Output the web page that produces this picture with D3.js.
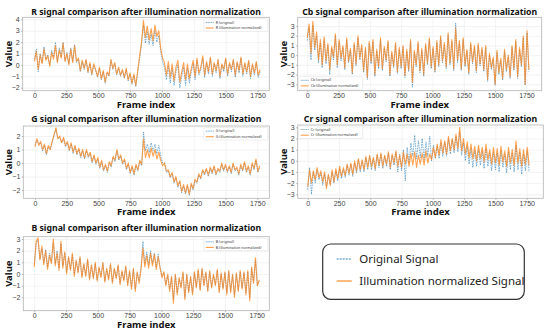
<!DOCTYPE html>
<html>
<head>
<meta charset="utf-8">
<script src="https://cdn.jsdelivr.net/npm/d3@7"></script>
<style>
  body { margin: 0; background: #fff; }
  svg { display: block; font-family: "Noto Sans", "DejaVu Sans", sans-serif; }
</style>
</head>
<body>
<div id="chart"></div>
<script>

// data: one value every 15 frames
const frameStep = 15;
const xTicks = [0, 250, 500, 750, 1000, 1250, 1500, 1750];

const rOriginal = [
  0.5, 1.4, -0.6, 1.0, 0.2, 1.6, 0.5, 0.9, 0.0, 1.3,
  0.7, 2.0, 0.3, 1.5, 0.7, 2.0, 0.4, 1.1, 0.1, 1.5,
  0.3, 1.8, 0.2, 0.5, -0.6, 0.3, -0.4, 0.4, -0.7, 0.1,
  -0.9, 0.0, -0.5, -1.1, -0.3, -1.3, -0.6, -1.6, -0.7, -1.0,
  0.4, -0.4, 0.1, -0.9, -0.3, -1.0, -0.5, -1.2, -0.4, -1.4,
  -0.8, -1.7, -0.9, -1.9, -0.7, 0.6, 1.8, 3.5, 1.9, 2.9,
  1.8, 2.7, 1.7, 3.0, 2.0, 2.6, 1.2, 0.3, -0.2, -1.3,
  -0.1, -1.6, -0.3, -1.8, -0.6, 0.0, -2.0, -1.0, -0.2, -1.8,
  -0.3, -1.6, -0.6, 0.1, -1.3, 0.4, -0.9, -0.4, 0.6, -1.1,
  0.2, -0.8, 0.6, -1.0, 0.1, -0.7, 0.4, -1.2, 0.0, -0.6,
  0.5, -1.0, 0.1, -0.6, 0.4, -1.1, 0.2, -0.7, 0.6, -1.0,
  0.1, -0.8, 0.3, -1.2, 0.0, -0.9, 0.2, -1.1, -0.6];
const rNormalized = [
  0.3, 1.2, -0.4, 0.9, 0.1, 1.4, 0.4, 0.8, -0.1, 1.1,
  0.5, 1.7, 0.2, 1.3, 0.6, 1.9, 0.3, 1.0, 0.0, 1.4,
  0.2, 1.7, 0.3, 0.6, -0.5, 0.4, -0.3, 0.5, -0.6, 0.2,
  -0.8, 0.1, -0.4, -1.0, -0.2, -1.2, -0.5, -1.5, -0.6, -0.9,
  0.5, -0.3, 0.2, -0.8, -0.2, -0.9, -0.4, -1.1, -0.3, -1.3,
  -0.7, -1.6, -0.8, -1.8, -0.5, 0.8, 2.0, 3.9, 2.4, 3.4,
  2.2, 3.2, 2.1, 3.5, 2.5, 3.0, 1.5, 0.6, 0.2, -0.9,
  0.3, -1.1, 0.1, -1.4, -0.2, 0.4, -1.5, -0.6, 0.2, -1.3,
  0.1, -1.2, -0.3, 0.4, -1.0, 0.6, -0.7, -0.2, 0.8, -0.9,
  0.3, -0.6, 0.7, -0.8, 0.2, -0.5, 0.5, -1.0, 0.1, -0.4,
  0.6, -0.8, 0.2, -0.4, 0.5, -0.9, 0.3, -0.5, 0.7, -0.8,
  0.2, -0.6, 0.4, -1.0, 0.1, -0.7, 0.3, -0.9, -0.4];

const cbOriginal = [
  1.5, 2.9, -0.5, 3.1, 0.5, 2.0, -0.8, 1.3, -1.3, 1.6,
  -0.9, 1.0, -2.0, 0.7, -0.5, 2.0, -1.3, 1.4, -0.6, 0.8,
  -1.5, 1.6, -0.8, 0.5, -2.0, 1.1, -1.1, 1.8, -0.5, 0.9,
  -1.8, 0.6, -2.5, 1.2, -0.9, 1.4, -2.2, 0.4, -1.4, 1.6,
  -1.6, 0.7, -0.7, 1.3, -2.2, 0.2, -1.3, 1.1, -1.9, 0.6,
  -1.4, 0.8, -2.3, 0.4, -1.7, 1.4, -3.3, 0.3, -1.2, 1.2,
  -1.8, 0.5, -2.2, 1.0, -1.0, 1.6, -1.4, 0.7, -1.8, 1.3,
  -1.2, 1.8, -0.8, 1.1, -1.4, 2.1, -1.0, 1.4, -1.6, 3.3,
  -0.8, 1.3, -1.6, 1.6, -1.2, 0.4, -2.0, 1.1, -0.9, 0.8,
  -1.8, 1.0, -1.1, 0.6, -1.7, 0.8, -2.7, 0.0, -1.5, -0.4,
  -3.1, 0.3, -2.0, -0.5, -2.6, 0.4, -1.7, -0.2, -2.4, 0.8,
  -1.6, 1.4, -2.4, 0.6, -1.2, 1.8, -3.1, 2.3, -1.7];
const cbNormalized = [
  1.8, 3.2, 0.2, 3.5, 0.8, 2.4, -0.5, 1.6, -1.0, 1.9,
  -0.6, 1.2, -1.5, 0.9, -0.2, 2.2, -1.0, 1.6, -0.3, 1.0,
  -1.3, 1.8, -0.6, 0.7, -1.8, 1.3, -0.9, 2.0, -0.3, 1.1,
  -1.6, 0.8, -2.3, 1.4, -0.7, 1.6, -2.0, 0.6, -1.2, 1.8,
  -1.4, 0.9, -0.5, 1.5, -2.0, 0.4, -1.1, 1.3, -1.7, 0.8,
  -1.2, 1.0, -2.1, 0.6, -1.5, 1.6, -2.8, 0.5, -1.0, 1.4,
  -1.6, 0.7, -2.0, 1.2, -0.8, 1.8, -1.2, 0.9, -1.6, 1.5,
  -1.0, 2.0, -0.6, 1.3, -1.2, 2.3, -0.8, 1.6, -1.4, 2.8,
  -0.5, 1.5, -1.4, 1.8, -1.0, 0.6, -1.8, 1.3, -0.7, 1.0,
  -1.6, 1.2, -0.9, 0.8, -1.5, 1.0, -2.5, 0.2, -1.3, -0.2,
  -3.0, 0.5, -1.8, -0.3, -2.4, 0.6, -1.5, 0.0, -2.2, 1.0,
  -1.4, 1.6, -2.2, 0.8, -1.0, 2.0, -3.0, 2.5, -1.5];

const gOriginal = [
  1.3, 1.7, 1.4, 1.5, 0.9, 1.3, 0.6, 1.2, 1.0, 1.5,
  2.0, 2.5, 1.8, 1.9, 1.5, 1.8, 1.2, 1.5, 0.9, 1.4,
  0.7, 1.2, 0.6, 1.0, 0.4, 0.9, 0.3, 0.9, 0.4, 0.7,
  0.0, 0.5, -0.1, 0.3, -0.4, 0.1, -0.6, -0.2, -0.7, 0.0,
  -0.3, 0.4, 0.1, 0.9, 0.2, 0.5, -0.1, 0.2, -0.5, -0.1,
  -0.8, -0.3, -0.9, -0.2, -0.6, 0.1, -0.2, 2.3, 0.9, 1.4,
  0.8, 1.5, 0.9, 1.4, 0.7, 1.3, 0.5, 0.0, 0.0, -0.7,
  -0.6, -1.1, -0.8, -1.5, -1.1, -1.8, -1.4, -2.2, -1.7, -2.3,
  -1.7, -2.4, -1.6, -2.0, -1.3, -1.5, -0.9, -1.2, -0.6, -0.9,
  -0.5, -1.0, -0.4, -0.8, -0.3, -0.9, -0.5, -0.7, -0.1, -0.6,
  -0.2, -0.7, -0.3, -0.8, -0.1, -0.6, -0.4, -0.9, -0.2, -0.6,
  0.0, -0.7, -0.3, -0.9, -0.1, -0.5, 0.2, -0.7, -0.3];
const gNormalized = [
  1.2, 1.8, 1.3, 1.6, 1.0, 1.4, 0.7, 1.3, 1.0, 1.6,
  2.1, 2.6, 1.8, 2.0, 1.5, 1.9, 1.3, 1.6, 1.0, 1.5,
  0.8, 1.3, 0.7, 1.1, 0.5, 1.0, 0.4, 1.0, 0.5, 0.8,
  0.1, 0.6, 0.0, 0.4, -0.3, 0.2, -0.5, -0.1, -0.6, 0.1,
  -0.2, 0.5, 0.2, 1.0, 0.3, 0.6, 0.0, 0.3, -0.4, 0.0,
  -0.7, -0.2, -0.8, -0.1, -0.5, 0.2, -0.1, 1.8, 0.4, 1.0,
  0.4, 1.1, 0.5, 1.0, 0.3, 0.8, 0.2, -0.2, 0.0, -0.6,
  -0.5, -1.0, -0.7, -1.4, -1.0, -1.7, -1.3, -2.1, -1.6, -2.2,
  -1.6, -2.3, -1.5, -1.9, -1.2, -1.4, -0.8, -1.1, -0.5, -0.8,
  -0.4, -0.9, -0.3, -0.7, -0.2, -0.8, -0.4, -0.6, 0.0, -0.5,
  -0.1, -0.6, -0.2, -0.7, 0.0, -0.5, -0.3, -0.8, -0.1, -0.5,
  0.1, -0.6, -0.2, -0.8, 0.0, -0.4, 0.3, -0.6, -0.2];

const crOriginal = [
  -2.6, -0.6, -3.0, -1.0, -2.0, -0.8, -1.7, -1.1, -2.2, -1.2,
  -2.3, -1.3, -2.1, -1.0, -2.0, -0.9, -1.8, -0.7, -1.6, -0.8,
  -1.5, -0.4, -1.3, -0.3, -1.4, -0.2, -1.1, 0.1, -1.0, 0.0,
  -1.0, 0.3, -0.8, 0.4, -0.8, 0.2, -0.9, 0.5, -0.6, 0.6,
  -0.7, 0.4, -0.5, 0.7, -0.8, 0.5, -0.4, 0.8, -1.0, 0.6,
  -0.9, 1.0, -1.8, 1.2, -0.2, 1.6, 0.4, 2.3, 0.2, 1.8,
  0.3, 2.0, 0.1, 1.7, 0.4, 2.2, 0.0, 1.4, 0.2, 1.3,
  0.2, 1.6, 0.4, 1.7, 0.4, 2.0, 0.6, 1.9, 0.7, 2.2,
  0.8, 2.6, 0.5, 1.6, 0.0, 1.3, -0.3, 1.1, -0.6, 0.9,
  -0.5, 1.0, -0.4, 0.9, -0.7, 1.1, -0.5, 0.7, -0.9, 0.8,
  -0.8, 0.7, -1.0, 0.9, -0.6, 0.6, -1.1, 0.8, -0.8, 0.7,
  -1.0, 1.4, -0.8, 0.8, -1.2, 0.6, -0.9, 0.9, -1.0];
const crNormalized = [
  -2.3, -0.8, -2.0, -0.9, -1.7, -0.6, -1.5, -0.9, -1.9, -1.0,
  -2.5, -1.2, -2.2, -0.8, -1.9, -0.7, -1.6, -0.5, -1.4, -0.6,
  -1.3, -0.3, -1.1, -0.2, -1.2, 0.0, -0.9, 0.2, -0.8, 0.1,
  -0.8, 0.4, -0.6, 0.5, -0.5, 0.3, -0.7, 0.6, -0.4, 0.7,
  -0.5, 0.5, -0.3, 0.8, -0.6, 0.6, -0.2, 0.9, -0.5, 0.5,
  -0.6, 0.8, -0.3, 0.6, -0.5, 0.7, -0.4, 0.8, -0.6, 0.5,
  -0.3, 0.7, -0.4, 0.9, -0.2, 0.6, 0.1, 1.2, 0.3, 1.5,
  0.5, 1.9, 0.7, 1.8, 0.6, 2.2, 0.9, 2.0, 1.0, 2.4,
  1.1, 3.0, 0.9, 2.0, 0.6, 1.7, 0.3, 1.5, 0.2, 1.3,
  0.0, 1.4, 0.2, 1.2, -0.1, 1.5, 0.1, 1.0, -0.3, 1.2,
  -0.2, 1.1, -0.4, 1.3, -0.1, 0.9, -0.5, 1.2, -0.2, 1.0,
  -0.4, 1.8, -0.2, 1.1, -0.5, 1.0, -0.3, 1.2, -0.4];

const bOriginal = [
  0.8, 2.6, 2.9, 1.3, 2.2, 1.0, 2.1, 0.6, 1.8, 1.0,
  2.7, 0.9, 2.0, 0.5, 2.6, 0.7, 1.8, 0.2, 1.4, 0.4,
  1.6, 0.0, 1.1, 0.2, 1.4, -0.2, 0.8, -0.1, 1.2, -0.4,
  0.7, -0.3, 0.9, -0.5, 0.5, -0.2, 0.9, -0.6, 0.4, -0.4,
  0.8, -0.7, 0.4, -0.3, 0.7, -0.8, 0.2, -0.5, 0.6, -0.9,
  0.2, -1.1, 0.4, -1.3, 0.1, -0.6, 0.6, 2.8, 0.9, 1.9,
  0.8, 2.0, 0.9, 1.8, 0.6, 1.7, 0.6, -0.2, 0.1, -0.9,
  -0.1, -1.3, -0.3, -2.2, -0.1, -1.6, -0.4, -1.1, 0.1, -2.0,
  -0.1, -1.5, -0.3, -1.6, 0.1, -1.1, 0.3, -1.3, 0.4, -0.9,
  0.1, -1.4, 0.2, -1.1, -0.1, -0.9, 0.3, -1.5, 0.0, -1.2,
  0.1, -1.6, 0.2, -1.5, -0.1, -1.8, 0.0, -1.4, 0.2, -1.2,
  0.1, -1.6, 0.2, -2.0, 0.5, -0.7, 1.2, -0.9, -0.6];
const bNormalized = [
  0.6, 2.8, 3.1, 1.2, 2.4, 0.8, 2.0, 0.4, 1.6, 0.9,
  3.0, 0.7, 1.8, 0.3, 2.8, 0.5, 1.9, 0.0, 1.5, 0.3,
  1.8, -0.2, 1.2, 0.1, 1.5, -0.3, 0.9, -0.2, 1.3, -0.5,
  0.8, -0.4, 1.0, -0.6, 0.6, -0.3, 1.0, -0.7, 0.5, -0.5,
  0.9, -0.8, 0.5, -0.4, 0.8, -0.9, 0.3, -0.6, 0.7, -1.0,
  0.3, -1.3, 0.5, -1.5, 0.2, -0.8, 0.4, 2.2, 0.6, 1.6,
  0.5, 1.8, 0.7, 1.7, 0.4, 1.5, 0.5, -0.3, 0.2, -1.0,
  0.0, -1.5, -0.2, -2.5, 0.0, -1.8, -0.3, -1.2, 0.2, -2.2,
  0.0, -1.6, -0.2, -1.8, 0.2, -1.2, 0.4, -1.4, 0.5, -1.0,
  0.2, -1.5, 0.3, -1.2, 0.0, -1.0, 0.4, -1.6, 0.1, -1.3,
  0.2, -1.8, 0.3, -1.6, 0.0, -2.0, 0.1, -1.5, 0.3, -1.3,
  0.2, -1.8, 0.3, -2.3, 0.6, -0.8, 1.4, -1.0, -0.5];

const dimensions = { width: 550, height: 329 };

const panels = [
  { name: "R", original: rOriginal, normalized: rNormalized, yTicks: [-2, -1, 0, 1, 2, 3, 4],
    box: { x0: 22.7, x1: 269.3, y0: 17.3, y1: 90.7 }, xDomain: [-92, 1842], yDomain: [-2.26, 4.18],
    titleY: 14.5, legend: "right" },
  { name: "Cb", original: cbOriginal, normalized: cbNormalized, yTicks: [-3, -2, -1, 0, 1, 2, 3],
    box: { x0: 297.7, x1: 541.7, y0: 17.3, y1: 90.7 }, xDomain: [-76, 1872], yDomain: [-3.66, 3.9],
    titleY: 14.5, legend: "lowerleft" },
  { name: "G", original: gOriginal, normalized: gNormalized, yTicks: [-2, -1, 0, 1, 2],
    box: { x0: 23.3, x1: 269.3, y0: 126, y1: 198.3 }, xDomain: [-92, 1845], yDomain: [-2.61, 2.74],
    titleY: 121.5, legend: "right" },
  { name: "Cr", original: crOriginal, normalized: crNormalized, yTicks: [-3, -2, -1, 0, 1, 2, 3],
    box: { x0: 297.7, x1: 543.3, y0: 125, y1: 198.3 }, xDomain: [-80, 1883], yDomain: [-3.36, 3.21],
    titleY: 121.5, legend: "left" },
  { name: "B", original: bOriginal, normalized: bNormalized, yTicks: [-2, -1, 0, 1, 2, 3],
    box: { x0: 23.3, x1: 269.3, y0: 236.7, y1: 310.7 }, xDomain: [-86, 1849], yDomain: [-3.14, 3.2],
    titleY: 230.5, legend: "right" },
];

const blue = "#1f77b4";
const orange = "#ff7f0e";

const svg = d3.select("#chart")
  .append("svg")
  .attr("width", dimensions.width)
  .attr("height", dimensions.height);

panels.forEach((p) => {
  const w = p.box.x1 - p.box.x0;
  const h = p.box.y1 - p.box.y0;

  const x = d3.scaleLinear().domain(p.xDomain).range([0, w]);
  const y = d3.scaleLinear().domain(p.yDomain).range([h, 0]);

  const bounds = svg.append("g")
    .attr("transform", `translate(${p.box.x0},${p.box.y0})`);

  // grid
  bounds.append("g")
    .attr("transform", `translate(0,${h})`)
    .call(d3.axisBottom(x).tickValues(xTicks).tickSize(-h).tickFormat(""))
    .call((g) => g.select(".domain").remove())
    .selectAll("line").attr("stroke", "#ebebeb").attr("stroke-width", 0.6);

  bounds.append("g")
    .call(d3.axisLeft(y).tickValues(p.yTicks).tickSize(-w).tickFormat(""))
    .call((g) => g.select(".domain").remove())
    .selectAll("line").attr("stroke", "#ebebeb").attr("stroke-width", 0.6);

  // lines
  const lineGenerator = d3.line()
    .x((d, i) => x(i * frameStep))
    .y((d) => y(d));

  const clipId = "clip-" + p.name;
  bounds.append("clipPath").attr("id", clipId)
    .append("rect").attr("width", w).attr("height", h);

  const plot = bounds.append("g").attr("clip-path", `url(#${clipId})`);

  plot.append("path")
    .attr("d", lineGenerator(p.original))
    .attr("fill", "none")
    .attr("stroke", blue)
    .attr("stroke-width", 0.7)
    .attr("stroke-dasharray", "1.6,0.9")
    .attr("opacity", 0.8);

  plot.append("path")
    .attr("d", lineGenerator(p.normalized))
    .attr("fill", "none")
    .attr("stroke", orange)
    .attr("stroke-width", 1.1)
    .attr("stroke-linejoin", "round")
    .attr("opacity", 0.72);

  // box
  bounds.append("rect")
    .attr("width", w)
    .attr("height", h)
    .attr("fill", "none")
    .attr("stroke", "#b4b4b4")
    .attr("stroke-width", 0.8);

  // axes
  const xAxis = bounds.append("g")
    .attr("transform", `translate(0,${h})`)
    .call(d3.axisBottom(x).tickValues(xTicks).tickSize(1.5).tickPadding(0.8).tickFormat(d3.format("d")));
  xAxis.select(".domain").remove();
  xAxis.selectAll("line").attr("stroke", "#b4b4b4");
  xAxis.selectAll("text").attr("font-size", 7).attr("fill", "#444");

  const yAxis = bounds.append("g")
    .call(d3.axisLeft(y).tickValues(p.yTicks).tickSize(1.5).tickPadding(1.5).tickFormat(d3.format("d")));
  yAxis.select(".domain").remove();
  yAxis.selectAll("line").attr("stroke", "#b4b4b4");
  yAxis.selectAll("text").attr("font-size", 7).attr("fill", "#444");

  // title
  svg.append("text")
    .attr("class", "title")
    .attr("x", p.box.x0 + w / 2)
    .attr("y", p.titleY)
    .attr("text-anchor", "middle")
    .attr("font-size", 10)
    .attr("font-weight", "bold")
    .attr("fill", "#111")
    .text(`${p.name} signal comparison after illumination normalization`);

  // axis labels
  svg.append("text")
    .attr("x", p.box.x0 + w / 2)
    .attr("y", p.box.y1 + 16.8)
    .attr("text-anchor", "middle")
    .attr("font-size", 9.5)
    .attr("font-weight", "bold")
    .attr("fill", "#111")
    .text("Frame index");

  svg.append("text")
    .attr("transform", `translate(${p.box.x0 - 11},${p.box.y0 + h / 2}) rotate(-90)`)
    .attr("text-anchor", "middle")
    .attr("font-size", 9.5)
    .attr("font-weight", "bold")
    .attr("fill", "#111")
    .text("Value");

  // small legend
  const lw = 64, lh = 12.5;
  let lx = w - lw - 1.5, ly = 1.5;
  if (p.legend === "left") { lx = 1; ly = 1; }
  if (p.legend === "lowerleft") { lx = 1; ly = h - lh - 1.5; }

  const legend = bounds.append("g").attr("transform", `translate(${lx},${ly})`);
  legend.append("rect")
    .attr("width", lw).attr("height", lh).attr("rx", 1.2)
    .attr("fill", "white").attr("fill-opacity", 0.85)
    .attr("stroke", "#dcdcdc").attr("stroke-width", 0.5);

  const items = [
    { label: `${p.name} (original)`, color: blue, dash: "1.2,0.6", width: 0.7 },
    { label: `${p.name} (illumination normalized)`, color: orange, dash: null, width: 1.1 },
  ];
  items.forEach((it, i) => {
    const cy = 3.6 + i * 5.6;
    legend.append("line")
      .attr("x1", 2).attr("x2", 10).attr("y1", cy).attr("y2", cy)
      .attr("stroke", it.color).attr("stroke-width", it.width)
      .attr("stroke-dasharray", it.dash)
      .attr("opacity", i === 1 ? 0.75 : 0.9);
    legend.append("text")
      .attr("x", 12).attr("y", cy + 1.2)
      .attr("font-size", 3.6).attr("fill", "#333")
      .text(it.label);
  });
});

// fit titles to the width measured in the picture
const titles = svg.selectAll("text.title");
const rWidth = titles.node().getComputedTextLength();
const titleSize = 10 * 230 / rWidth;
titles.attr("font-size", titleSize);

// big legend
const bigLegend = svg.append("g").attr("transform", "translate(322.7,244)");

bigLegend.append("rect")
  .attr("width", 201.6)
  .attr("height", 55.3)
  .attr("rx", 8)
  .attr("fill", "white")
  .attr("stroke", "#333")
  .attr("stroke-width", 1.2);

const bigItems = [
  { label: "Original Signal", color: blue, dash: "2,1", width: 1, opacity: 0.9 },
  { label: "Illumination normalized Signal", color: orange, dash: null, width: 1.5, opacity: 0.7 },
];

bigItems.forEach((it, i) => {
  const cy = 15 + i * 22;
  bigLegend.append("line")
    .attr("x1", 14).attr("x2", 29).attr("y1", cy).attr("y2", cy)
    .attr("stroke", it.color)
    .attr("stroke-width", it.width)
    .attr("stroke-dasharray", it.dash)
    .attr("opacity", it.opacity);
  bigLegend.append("text")
    .attr("x", 36.6)
    .attr("y", cy + 4)
    .attr("font-size", 11.5)
    .attr("fill", "#222")
    .text(it.label);
});

</script>
</body>
</html>
